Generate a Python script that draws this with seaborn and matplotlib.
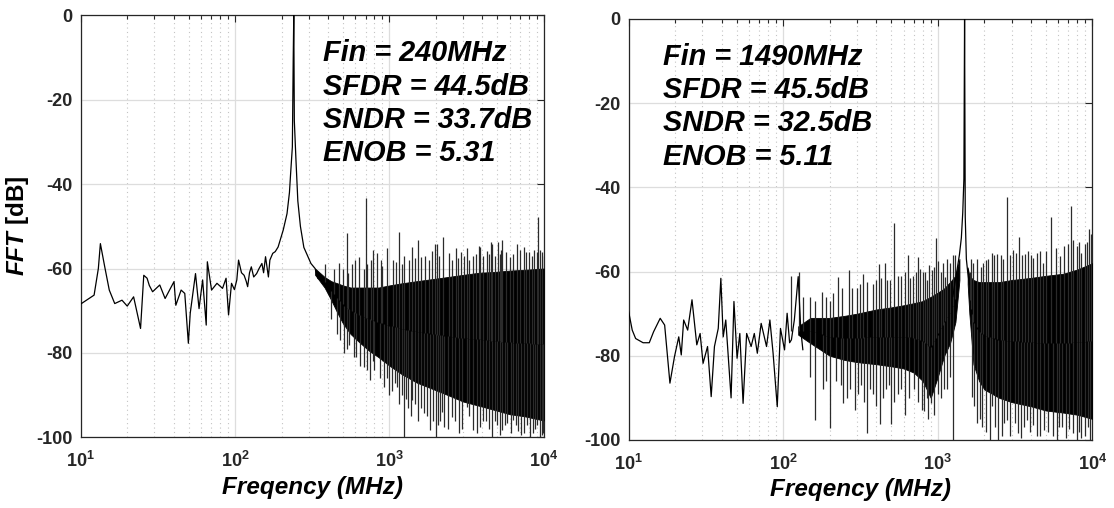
import numpy as np
import matplotlib
matplotlib.use("Agg")
import matplotlib.pyplot as plt
import seaborn as sns
from matplotlib.ticker import LogLocator, NullFormatter, FixedLocator

# ---------------- Fin = 240 MHz spectrum ----------------
# isolated low-frequency trace including the fundamental
a_trace_f = [10, 12.2, 13.0, 13.4, 14.3, 15.3, 16.6, 18.5, 20.0, 22.0, 24.4, 25.6,
             26.9, 27.8, 29.2, 32.5, 35.2, 40.2, 41.3, 44.7, 47.2, 49.8, 51.2, 55.4,
             58.4, 61.6, 65.0, 66.1, 70.4, 76.3, 82.9, 87.4, 90.7, 94.8, 99, 102.6,
             105.3, 110, 114.4, 118, 120.6, 124, 127.4, 132, 137.9, 143, 149.2, 153,
             157.5, 164.4, 168, 175.4, 182, 190, 205, 217, 225, 229, 235, 238, 240,
             242, 248, 255, 265, 279, 295, 310, 330, 345]
a_trace_db = [-68.4, -66.3, -60.0, -54.1, -59.6, -65.1, -68.3, -67.5, -68.9, -66.7, -74.2, -61.6,
              -62.3, -64.0, -65.5, -63.9, -67.1, -63.1, -68.7, -65.1, -65.9, -77.7, -70.6, -61.2,
              -69.5, -62.7, -73.4, -58.4, -65.1, -63.5, -64.7, -62.3, -71.0, -63.5, -65.0, -62.7,
              -58.0, -61.0, -61.6, -63.0, -64.3, -61.0, -59.6, -62.0, -61.2, -60.0, -58.8, -61.0,
              -57.2, -62.0, -58.0, -56.4, -56.0, -54.9, -50.9, -47.0, -42.0, -37.5, -31.2, -10.7, 0.0,
              -25.0, -34.3, -44.0, -50.0, -55.0, -57.0, -58.8, -60.0, -62.4]
# dense noise floor: upper / lower edge of the solid region
a_band_f = [330, 380, 420, 460, 500, 560, 640, 740, 850, 1000, 1200, 1500,
            1900, 2400, 3000, 3800, 4800, 6000, 7500, 10000]
a_band_hi = [-60.0, -62.0, -63.0, -63.5, -64.0, -64.5, -64.5, -64.5, -64.5, -64.0,
             -63.5, -63.0, -62.5, -62.0, -61.5, -61.0, -60.8, -60.5, -60.3, -60.0]
a_band_lo = [-61.5, -64.5, -67.5, -70.5, -73.0, -75.5, -77.5, -79.5, -81.0, -83.0,
             -85.0, -87.0, -88.5, -90.0, -91.5, -92.5, -93.5, -94.5, -95.0, -96.0]
# individual spurs rising above the floor
a_up_f = [380, 440, 470, 500, 535, 540, 570, 600, 636, 680, 706, 720, 760, 782, 826, 880,
          900, 960, 1050, 1100, 1156, 1200, 1250, 1330, 1400, 1460, 1530, 1600, 1700, 1800,
          1880, 1986, 2040, 2100, 2230, 2420, 2550, 2690, 2800, 2900, 3050, 3170, 3300, 3500,
          3650, 3800, 3880, 4050, 4270, 4400, 4560, 4630, 4850, 5030, 5200, 5300, 5400, 5700,
          6000, 6300, 6700, 7000, 7400, 7700, 8000, 8400, 8700, 9000, 9200, 9500, 9700, 10000]
a_up_db = [-59.0, -60.0, -58.8, -60.0, -51.7, -61.0, -59.0, -58.0, -57.2, -60.0, -43.4, -59.0,
           -58.0, -55.6, -56.4, -58.0, -59.5, -55.2, -58.0, -58.5, -51.3, -59.0, -57.0, -58.0,
           -54.9, -57.5, -53.3, -57.3, -57.0, -58.0, -55.8, -54.1, -54.3, -57.0, -52.5, -56.4,
           -58.0, -55.2, -57.5, -56.0, -57.0, -55.2, -58.0, -57.0, -56.5, -54.6, -54.9, -57.0,
           -55.8, -56.5, -53.7, -54.1, -57.0, -53.7, -56.5, -55.7, -53.3, -56.0, -57.2, -56.5,
           -54.1, -55.5, -54.9, -56.0, -56.0, -57.0, -55.5, -56.0, -47.7, -55.5, -56.0, -57.0]
# individual notches dropping below the floor
a_dn_f = [420, 460, 480, 510, 530, 545, 586, 610, 640, 688, 720, 746, 780, 800, 870, 920,
          960, 1000, 1040, 1080, 1120, 1150, 1200, 1240, 1280, 1320, 1370, 1410, 1460, 1530,
          1600, 1670, 1750, 1830, 1920, 2000, 2070, 2130, 2200, 2270, 2400, 2540, 2680, 2820,
          2950, 3170, 3300, 3490, 3700, 3880, 4050, 4200, 4400, 4630, 4800, 5000, 5200, 5400,
          5600, 5800, 6100, 6330, 6600, 6800, 7100, 7400, 7800, 8200, 8500, 8800, 9100, 9400,
          9700, 9900]
a_dn_db = [-72.0, -75.4, -77.0, -80.1, -79.0, -78.0, -80.9, -81.0, -83.0, -83.3, -84.0, -86.4,
           -82.0, -84.0, -86.0, -88.0, -86.0, -90.0, -89.0, -87.2, -88.0, -92.0, -90.0, -99.8,
           -91.0, -93.0, -95.0, -91.2, -92.0, -96.0, -93.0, -94.3, -95.0, -98.3, -96.0, -99.8,
           -97.0, -96.0, -94.0, -97.5, -98.0, -95.1, -96.0, -99.0, -98.0, -92.7, -95.0, -98.3,
           -99.0, -97.5, -96.0, -96.0, -98.0, -99.8, -96.0, -97.0, -99.5, -98.3, -97.0, -96.5,
           -99.0, -95.9, -97.0, -98.5, -99.5, -99.0, -97.0, -99.8, -99.0, -98.0, -97.0, -99.8,
           -99.5, -99.0]
a_notes = ["Fin = 240MHz", "SFDR = 44.5dB", "SNDR = 33.7dB", "ENOB = 5.31"]
a_fin = 240

# ---------------- Fin = 1490 MHz spectrum ----------------
b_trace_f = [10, 10.55, 11.1, 12.4, 13.6, 14.5, 16.0, 17.1, 18.5, 19.8, 21.1, 21.9, 22.7,
             24.1, 25.7, 27.6, 29.0, 30.3, 32.4, 34.2, 35.9, 38.0, 39.5, 40.9, 42.5, 46.0,
             48.0, 50.3, 52.4, 55.0, 58.0, 62.0, 65.0, 68.0, 72.0, 78.0, 82.0, 86.0, 91.5,
             96.0, 102, 106, 110, 113, 118, 125, 130, 134]
b_trace_db = [-69.5, -73.9, -75.9, -76.9, -76.9, -74.3, -71.1, -72.7, -86.5, -80.2, -75.5, -79.8,
              -71.5, -73.9, -66.7, -77.4, -74.7, -81.8, -77.8, -89.7, -77.8, -73.5, -61.6, -75.5,
              -71.5, -90.0, -67.1, -80.6, -74.7, -91.3, -74.7, -77.8, -74.7, -79.4, -72.3, -77.8,
              -71.5, -79.4, -92.1, -73.5, -78.6, -69.9, -76.9, -76.2, -71.5, -61.2, -74.0, -78.6]
# skirt and line of the fundamental
b_peak_f = [1250, 1300, 1340, 1380, 1420, 1450, 1475, 1490, 1505, 1530, 1560, 1600]
b_peak_db = [-66.0, -62.0, -59.0, -56.0, -52.0, -46.0, -38.0, 0.0, -47.0, -57.0, -60.0, -63.0]
b_band_f = [125, 150, 200, 250, 300, 400, 500, 600, 700, 800, 900, 1000, 1100, 1200,
            1300, 1380, 1560, 1600, 1700, 1850, 2000, 2500, 3000, 4000, 5000, 6500, 8000, 10000]
b_band_hi = [-73.0, -71.0, -71.0, -70.5, -70.0, -69.0, -68.5, -68.0, -67.5, -67.0, -66.0,
             -65.0, -64.0, -62.5, -61.0, -57.0, -59.0, -61.0, -62.0, -62.5, -62.5, -62.5, -62.0,
             -61.5, -61.0, -60.5, -59.5, -58.0]
b_band_lo = [-75.0, -77.0, -80.0, -81.0, -81.5, -82.0, -82.5, -83.0, -84.0, -86.0, -90.0,
             -85.0, -80.0, -77.0, -72.0, -62.0, -63.0, -70.0, -82.0, -86.0, -88.0, -90.0, -91.0,
             -92.0, -93.0, -93.5, -94.0, -95.0]
b_up_f = [112, 126, 135, 150, 160, 178, 190, 200, 210, 226, 240, 267, 280, 300, 315, 330,
          350, 380, 400, 416, 430, 455, 470, 490, 520, 550, 580, 610, 640, 660, 690, 720,
          740, 770, 800, 830, 850, 880, 915, 950, 970, 1010, 1050, 1080, 1115, 1150, 1200,
          1250, 1300, 1620, 1650, 1700, 1780, 1900, 1950, 2040, 2120, 2230, 2300, 2400, 2550,
          2650, 2800, 2950, 3070, 3200, 3350, 3500, 3660, 3850, 4000, 4150, 4400, 4600, 4800,
          5000, 5400, 5800, 6170, 6600, 7000, 7300, 7500, 7900, 8200, 8500, 8900, 9200, 9500, 9800]
b_up_db = [-61.0, -60.2, -66.0, -66.0, -67.0, -64.8, -66.0, -67.0, -65.0, -61.2, -64.0, -59.7,
           -64.0, -64.0, -63.0, -60.6, -62.5, -63.0, -62.0, -58.1, -61.5, -57.9, -62.0, -62.0,
           -48.4, -61.0, -61.0, -60.0, -56.1, -61.5, -61.0, -60.0, -56.6, -59.5, -60.0, -60.0,
           -62.0, -58.5, -59.7, -59.0, -52.0, -57.5, -60.0, -58.0, -61.2, -57.0, -58.0, -56.0,
           -56.0, -60.0, -57.0, -58.0, -57.0, -59.0, -58.0, -57.2, -57.0, -55.5, -56.0, -55.9,
           -56.0, -57.0, -42.2, -56.0, -54.9, -55.5, -51.7, -56.0, -55.9, -55.0, -56.0, -56.7,
           -55.5, -55.0, -57.9, -55.0, -47.0, -54.5, -56.3, -54.0, -53.5, -44.4, -52.5, -54.0,
           -53.0, -55.6, -53.5, -53.0, -50.0, -51.0]
b_dn_f = [150, 161, 180, 190, 200, 220, 235, 245, 260, 270, 291, 305, 320, 335, 350, 365,
          380, 400, 425, 440, 460, 480, 495, 520, 550, 580, 612, 650, 700, 740, 792, 820,
          850, 870, 900, 950, 1000, 1050, 1100, 1150, 1200, 1250, 1670, 1720, 1800, 1870,
          1940, 2050, 2160, 2230, 2350, 2460, 2600, 2700, 2820, 2950, 3150, 3300, 3450, 3600,
          3750, 3950, 4150, 4370, 4600, 4900, 5200, 5550, 5900, 6100, 6400, 6800, 7100, 7500,
          7900, 8200, 8500, 8900, 9400, 9700]
b_dn_db = [-85.0, -95.2, -88.0, -86.0, -97.2, -86.0, -87.0, -91.3, -90.0, -88.0, -92.9, -89.0,
           -87.0, -91.0, -98.4, -88.0, -89.0, -92.0, -96.1, -90.0, -88.0, -87.0, -96.1, -91.0,
           -89.0, -88.0, -94.1, -90.0, -88.0, -91.0, -92.9, -93.0, -90.0, -95.0, -91.3, -94.0,
           -89.0, -90.0, -88.0, -88.0, -85.0, -100.0, -89.7, -92.0, -96.0, -95.0, -96.8, -98.0,
           -100.0, -92.0, -97.0, -100.0, -99.0, -96.0, -95.2, -99.0, -96.0, -98.4, -99.5, -97.0,
           -95.2, -98.0, -96.5, -99.0, -99.0, -97.6, -98.0, -99.0, -100.0, -97.0, -96.8, -99.5,
           -97.5, -98.4, -100.0, -98.0, -99.6, -99.0, -96.8, -100.0]
b_notes = ["Fin = 1490MHz", "SFDR = 45.5dB", "SNDR = 32.5dB", "ENOB = 5.11"]
b_fin = 1490

# ---------------- axis decoration ----------------
x_ticks = [10, 100, 1000, 10000]
x_tick_labels = [r"$\mathbf{10^{1}}$", r"$\mathbf{10^{2}}$", r"$\mathbf{10^{3}}$", r"$\mathbf{10^{4}}$"]
y_ticks = [-100, -80, -60, -40, -20, 0]
y_tick_labels = ["-100", "-80", "-60", "-40", "-20", "0"]

sns.set_theme(style="white")
plt.rcParams["font.family"] = ["Liberation Sans", "DejaVu Sans"]
plt.rcParams["mathtext.fontset"] = "custom"
plt.rcParams["mathtext.rm"] = "Liberation Sans"
plt.rcParams["mathtext.bf"] = "Liberation Sans:bold"
plt.rcParams["mathtext.it"] = "Liberation Sans:italic"
plt.rcParams["mathtext.bfit"] = "Liberation Sans:italic:bold"

INK = "#262626"


def draw_panel(ax, trace_f, trace_db, band_f, band_hi, band_lo, up_f, up_db,
               dn_f, dn_db, fin, notes, note_x, peak_f=None, peak_db=None):
    band_f = np.asarray(band_f, float)
    hi = np.asarray(band_hi, float)
    lo = np.asarray(band_lo, float)

    # solid noise floor (split around the fundamental)
    for mask in (band_f < fin, band_f > fin):
        if mask.any():
            ax.fill_between(band_f[mask], lo[mask], hi[mask], color="black",
                            lw=0.6, edgecolor="black", zorder=3)

    # spurs and notches drawn from the middle of the floor
    mid = (hi + lo) / 2
    logf = np.log10(band_f)
    uf = np.asarray(up_f, float)
    df = np.asarray(dn_f, float)
    ax.vlines(uf, np.interp(np.log10(uf), logf, mid), up_db, color="#2b2b2b", lw=0.9, zorder=3)
    ax.vlines(df, np.interp(np.log10(df), logf, mid), dn_db, color="#2b2b2b", lw=0.9, zorder=3)

    sns.lineplot(x=trace_f, y=trace_db, ax=ax, color="black", lw=0.9,
                 estimator=None, sort=False, zorder=4)
    if peak_f is not None:
        sns.lineplot(x=peak_f, y=peak_db, ax=ax, color="black", lw=0.9,
                     estimator=None, sort=False, zorder=4)

    ax.set_xscale("log")
    ax.set_xlim(10, 10000)
    ax.set_ylim(-100, 0)
    ax.xaxis.set_major_locator(FixedLocator(x_ticks))
    ax.set_xticklabels(x_tick_labels, fontsize=13, color=INK)
    ax.xaxis.set_minor_locator(LogLocator(base=10, subs=range(2, 10)))
    ax.xaxis.set_minor_formatter(NullFormatter())
    ax.set_yticks(y_ticks)
    ax.set_yticklabels(y_tick_labels, fontsize=13, fontweight="bold", color=INK)

    ax.tick_params(which="both", direction="in", top=True, right=True, color=INK, width=0.8)
    ax.tick_params(which="major", length=5)
    ax.tick_params(axis="x", which="major", pad=10)
    ax.tick_params(axis="y", which="major", pad=6)
    ax.tick_params(which="minor", length=3)

    ax.set_axisbelow(True)
    ax.grid(which="major", color="#dddddd", lw=0.9, ls="-")
    ax.grid(which="minor", axis="x", color="#c4c4c4", lw=0.8, ls=(0, (1, 3)))
    for s in ax.spines.values():
        s.set_visible(True)
        s.set_color(INK)
        s.set_linewidth(0.9)

    ax.set_xlabel("Freqency (MHz)", fontsize=17.5, fontweight="bold", fontstyle="italic",
                  color="black", labelpad=3)
    ax.set_ylabel("")

    for i, line in enumerate(notes):
        ax.text(note_x, 0.91 - i * 0.079, line, transform=ax.transAxes, fontsize=20.8,
                fontweight="bold", fontstyle="italic", color="black", va="center",
                ha="left", zorder=6)


fig = plt.figure(figsize=(11.14, 5.08), dpi=100)
ax1 = fig.add_axes([0.0725, 0.139, 0.4156, 0.831])
ax2 = fig.add_axes([0.5643, 0.1339, 0.4163, 0.8287])

draw_panel(ax1, a_trace_f, a_trace_db, a_band_f, a_band_hi, a_band_lo, a_up_f, a_up_db,
           a_dn_f, a_dn_db, a_fin, a_notes, 0.523)
draw_panel(ax2, b_trace_f, b_trace_db, b_band_f, b_band_hi, b_band_lo, b_up_f, b_up_db,
           b_dn_f, b_dn_db, b_fin, b_notes, 0.074, peak_f=b_peak_f, peak_db=b_peak_db)

ax1.set_ylabel(r"$\mathbfit{FFT}\ \mathbf{[dB]}$", fontsize=17.5, color="black", labelpad=4)

fig.savefig("out.png", dpi=100)
